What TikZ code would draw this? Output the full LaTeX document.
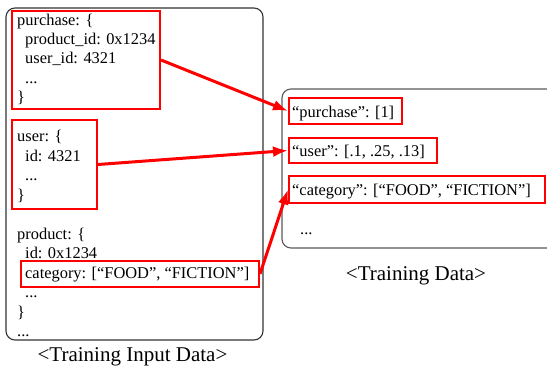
\documentclass[tikz,border=0pt]{standalone}
\usepackage{fontspec}
\setmainfont{Liberation Serif}
\usetikzlibrary{shapes,positioning,arrows.meta,fit,calc}

\tikzset{
  redbox/.style={draw=red, line width=2pt, inner sep=0pt},
  panel/.style={draw=black!80, line width=1.1pt, rounded corners=9pt},
  hilite/.style={red, line width=3pt, -{Latex[length=15pt,width=11pt]}},
  code/.style={align=left, anchor=base west, inner sep=0pt,
    font=\fontsize{16.4}{19.5}\selectfont},
  caption/.style={font=\fontsize{21}{25}\selectfont}
}

\begin{document}
\begin{tikzpicture}[x=1pt,y=-1pt]
  \clip (0,0) rectangle (547,371);
  % panels
  \draw[panel] (6,8) rectangle (263,340);
  \draw[panel, draw=black!65] (282,89) rectangle (575,248);

  % input records (anchored at the baseline of the last line)
  \node[code] (input) at (17,337) {purchase: \{\\
    \hspace*{8pt}product\_id: 0x1234\\
    \hspace*{8pt}user\_id: 4321\\
    \hspace*{8pt}...\\
    \}\\
    ~\\
    user: \{\\
    \hspace*{8pt}id: 4321\\
    \hspace*{8pt}...\\
    \}\\
    ~\\
    product: \{\\
    \hspace*{8pt}id: 0x1234\\
    \hspace*{8pt}category: [“FOOD”, “FICTION”]\\
    \hspace*{8pt}...\\
    \}\\
    ...};

  % training features
  \node[code] (train) at (292,234.5) {“purchase”: [1]\\
    ~\\
    “user”: [.1, .25, .13]\\
    ~\\
    “category”: [“FOOD”, “FICTION”]\\
    ~\\
    \hspace*{8pt}...};

  \node[caption] (incap) at (132.5,357) {<Training Input Data>};
  \node[caption] (trcap) at (416,276) {<Training Data>};

  % highlights
  \node[redbox, fit={(12,11) (160,109)}] (buyL) {};
  \node[redbox, fit={(12,120) (97,209)}] (userL) {};
  \node[redbox, fit={(21,261) (259,287)}] (catL) {};
  \node[redbox, fit={(289,98) (402,124)}] (buyR) {};
  \node[redbox, fit={(289,138) (437,163)}] (userR) {};
  \node[redbox, fit={(289,176) (545,203)}] (catR) {};

  \draw[hilite] (buyL.east) -- (buyR.west);
  \draw[hilite] (userL.east) -- (userR.west);
  \draw[hilite] (catL.east) -- (catR.west);
\end{tikzpicture}
\end{document}
